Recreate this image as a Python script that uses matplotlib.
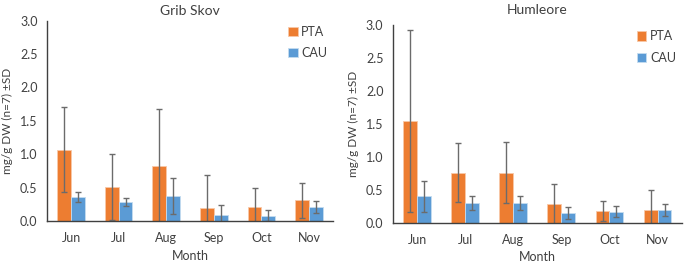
import numpy as np
import matplotlib
matplotlib.use("Agg")
import matplotlib.pyplot as plt

plt.rcParams['font.family'] = ['Lato', 'DejaVu Sans']

months = ['Jun', 'Jul', 'Aug', 'Sep', 'Oct', 'Nov']

# Grib Skov
gs_pta = [1.07, 0.51, 0.83, 0.20, 0.21, 0.31]
gs_pta_sd = [0.63, 0.49, 0.85, 0.49, 0.28, 0.26]
gs_cau = [0.36, 0.28, 0.38, 0.095, 0.08, 0.21]
gs_cau_sd = [0.075, 0.06, 0.27, 0.14, 0.08, 0.09]

# Humleore
hu_pta = [1.55, 0.76, 0.76, 0.28, 0.18, 0.20]
hu_pta_sd = [1.38, 0.45, 0.46, 0.31, 0.15, 0.29]
hu_cau = [0.40, 0.30, 0.30, 0.15, 0.17, 0.19]
hu_cau_sd = [0.23, 0.105, 0.11, 0.09, 0.085, 0.09]

ORANGE = '#ED7D31'
BLUE = '#5B9BD5'
ERRC = '#6b6b6b'
TXT = '#404040'


def panel(ax, title, tpad, pta, pta_sd, cau, cau_sd):
    x = np.arange(len(months))
    w = 0.29
    ekw = dict(ecolor=ERRC, elinewidth=1.0, capsize=2.2, capthick=1.0)
    ax.bar(x - w / 2, pta, w, color=ORANGE, edgecolor='#f8c8a8', linewidth=0.6,
           yerr=pta_sd, error_kw=ekw, label='PTA')
    ax.bar(x + w / 2, cau, w, color=BLUE, edgecolor='#c4dcf0', linewidth=0.6,
           yerr=cau_sd, error_kw=ekw, label='CAU')
    ax.set_xlim(-0.5, len(months) - 0.5)
    ax.set_ylim(0, 3.0)
    ax.set_yticks(np.arange(0, 3.01, 0.5))
    ax.set_yticklabels(['%.1f' % v for v in np.arange(0, 3.01, 0.5)])
    ax.set_xticks(x)
    ax.set_xticklabels(months)
    ax.tick_params(length=0, labelsize=9, colors=TXT, pad=7)
    ax.tick_params(axis='x', pad=8)
    for s in ['top', 'right']:
        ax.spines[s].set_visible(False)
    for s in ['left', 'bottom']:
        ax.spines[s].set_color(TXT)
        ax.spines[s].set_linewidth(1.0)
    ax.set_title(title, fontsize=10, color=TXT, pad=tpad)
    ax.set_xlabel('Month', fontsize=9, color=TXT, labelpad=4)
    ax.set_ylabel('mg/g DW (n=7) \u00b1SD', fontsize=8.5, color=TXT, labelpad=5)
    ax.legend(loc='upper right', frameon=False, fontsize=9, handlelength=0.75,
              handleheight=0.75, handletextpad=0.3, labelspacing=0.75,
              labelcolor=TXT, bbox_to_anchor=(1.02, 1.03))


fig = plt.figure(figsize=(6.85, 2.63), dpi=100)
ax1 = fig.add_axes([0.069, 0.159, 0.417, 0.763])
ax2 = fig.add_axes([0.574, 0.153, 0.421, 0.752])
panel(ax1, 'Grib Skov', 4, gs_pta, gs_pta_sd, gs_cau, gs_cau_sd)
panel(ax2, 'Humleore', 8, hu_pta, hu_pta_sd, hu_cau, hu_cau_sd)

fig.savefig('out.png', dpi=100)
